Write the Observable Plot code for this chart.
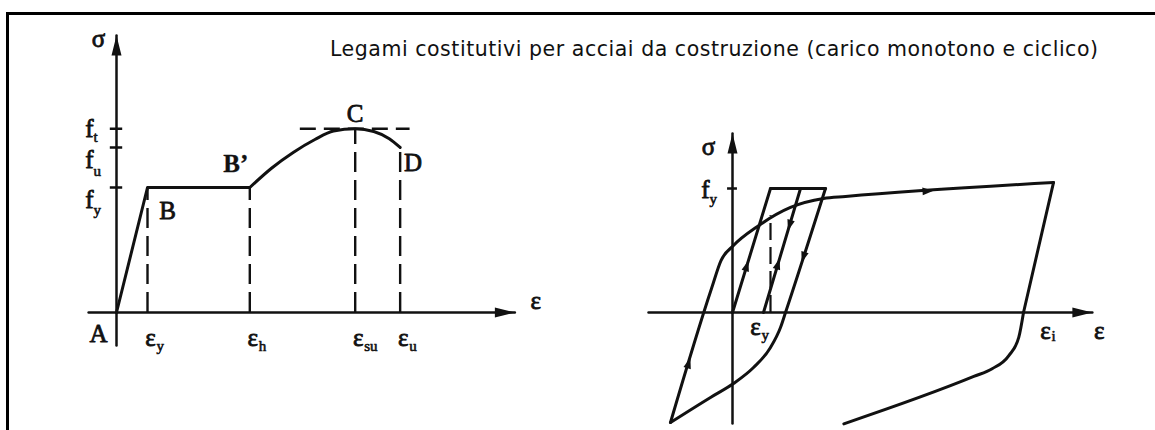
<!DOCTYPE html>
<html lang="it">
<head>
<meta charset="utf-8">
<title>Legami costitutivi per acciai da costruzione</title>
<script src="https://cdn.jsdelivr.net/npm/d3@7"></script>
<script src="https://cdn.jsdelivr.net/npm/@observablehq/plot@0.6"></script>
<style>
  html, body { margin: 0; padding: 0; background: #fff; }
  #figure { position: relative; width: 1155px; height: 430px; overflow: hidden; background: #fff; }
  #frame { position: absolute; left: 6px; top: 12px; width: 1170px; height: 440px;
           border-top: 3px solid #000; border-left: 3px solid #000; box-sizing: border-box; }
  #title { position: absolute; left: 330px; top: 39px; font-family: "DejaVu Sans", sans-serif;
           font-size: 20.5px; line-height: 20px; color: #111; white-space: nowrap; z-index: 2; }
  .panel { position: absolute; top: 0; z-index: 1; }
  .panel svg { display: block; overflow: visible; }
</style>
</head>
<body>
<div id="figure">
  <div id="frame"></div>
  <div id="title"></div>
  <div id="left" class="panel" style="left:0px"></div>
  <div id="right" class="panel" style="left:580px"></div>
</div>
<script>
const TITLE = "Legami costitutivi per acciai da costruzione (carico monotono e ciclico)";

// ---- Monotonic law (left): strain in units of ε_y, stress in units of f_y
const monoPoints = ["A", "B", "B’", "C", "D"];
const monoStrain = [0, 1, 4.3, 7.7, 9.15];
const monoStress = [0, 1, 1, 1.47, 1.32];
// strain-hardening branch B' → C → D
const hardeningStrain = [4.3, 5.0, 5.7, 6.4, 7.0, 7.7, 8.3, 8.8, 9.15];
const hardeningStress = [1.0, 1.154, 1.28, 1.384, 1.452, 1.47, 1.448, 1.39, 1.32];
// characteristic strains (ε axis) and the stress reached there
const strainTickSubs = ["y", "h", "su", "u"];
const strainTickValues = [1, 4.3, 7.7, 9.15];
const strainTickStress = [1, 1, 1.47, 1.32];
// characteristic stresses (σ axis)
const stressTickSubs = ["y", "u", "t"];
const stressTickValues = [1, 1.32, 1.47];

// ---- Cyclic law (right): strain in units of ε_y, stress in units of f_y
const elasticStrain = [0, 1];
const elasticStress = [0, 1];
const yieldStrain = [1, 2.447];
const yieldStress = [1, 1];
const reloadStrain = [0.816, 1.79];
const reloadStress = [0, 1];
const unloadStrain = [2.447, 1.395, 1.263, 1.0, 0.553, 0.026, -0.579, -1.632];
const unloadStress = [1, 0, -0.121, -0.282, -0.444, -0.573, -0.685, -0.887];
const reverseStrain = [-1.632, -0.55, -0.30, 0.026, 0.658, 1.526, 2.395, 2.974, 8.447];
const reverseStress = [-0.887, 0.195, 0.42, 0.54, 0.694, 0.847, 0.919, 0.935, 1.048];
const secondUnloadStrain = [8.447, 7.658];
const secondUnloadStress = [1.048, 0];
const compressionStrain = [7.658, 7.535, 7.272, 6.833, 6.35, 2.93];
const compressionStress = [0, -0.199, -0.347, -0.454, -0.516, -0.898];
const cyclicYieldStrain = 1;        // ε_y on the cyclic diagram
const cyclicYieldDashTop = 0.78;    // dashed ε_y line up to the envelope
const cyclicInelasticStrain = 7.658; // ε_i

// ---- layout (scales map the units above to pixels)
const INK = "#111";
const SERIF = "'Liberation Serif', 'Times New Roman', serif";
const LEFT = {width: 580, x: {domain: [0, 1], range: [116, 147]}, y: {domain: [0, 1], range: [312, 187]},
              axisStrain: [-0.9, 12.85], axisStress: [-0.264, 2.216], peakDash: [5.93, 9.47]};
const RIGHT = {width: 575, x: {domain: [0, 1], range: [152, 190]}, y: {domain: [0, 1], range: [312, 188]},
               axisStrain: [-2.21, 9.47], axisStress: [-0.895, 1.444]};

const table = (xs, ys) => xs.map((x, i) => ({x, y: ys[i]}));

// filled arrowhead, tip at the anchor point, pointing up before rotation
function arrowHead(len, half) {
  return {
    draw(context, size) {
      const k = Math.sqrt(size / Math.PI) / 5;
      context.moveTo(0, 0);
      context.lineTo(half * k, len * k);
      context.lineTo(-half * k, len * k);
      context.closePath();
    }
  };
}
const axisHead = arrowHead(20, 5);
const flowHead = arrowHead(11, 3.8);

function axes(p) {
  const [x0, x1] = p.axisStrain, [y0, y1] = p.axisStress;
  return [
    Plot.line([{x: x0, y: 0}, {x: x1, y: 0}], {x: "x", y: "y", stroke: INK, strokeWidth: 2.5}),
    Plot.line([{x: 0, y: y0}, {x: 0, y: y1}], {x: "x", y: "y", stroke: INK, strokeWidth: 2.5}),
    Plot.dot([{x: x1, y: 0}], {x: "x", y: "y", symbol: axisHead, r: 5, fill: INK, stroke: "none", rotate: 90}),
    Plot.dot([{x: 0, y: y1}], {x: "x", y: "y", symbol: axisHead, r: 5, fill: INK, stroke: "none", rotate: 0})
  ];
}

// letter + subscript placed at a data anchor with pixel offsets
function label(x, y, main, sub, o) {
  const bold = o.weight === "bold";
  const marks = [Plot.text([{x, y}], {x: "x", y: "y", text: () => main, dx: o.dx, dy: o.dy,
    fontFamily: SERIF, fontSize: o.size || 25, fontWeight: bold ? "bold" : "normal",
    textAnchor: "middle", fill: INK, stroke: INK, strokeWidth: bold ? 0.3 : 0.8})];
  if (sub) marks.push(Plot.text([{x, y}], {x: "x", y: "y", text: () => sub, dx: o.sdx, dy: o.sdy,
    fontFamily: SERIF, fontSize: 15, textAnchor: "start", fill: INK, stroke: INK, strokeWidth: 0.6}));
  return marks;
}

// ---------------- left panel: monotonic law ----------------
const mono = table(monoStrain, monoStress);
const pointOffsets = [[-18, 21], [20, 23], [-14, -24], [0, -15], [13, 15]];
const stressLabelOffsets = [[12, 23], [12, 24], [0, 8]];

const leftMarks = [
  ...axes(LEFT),
  Plot.ruleY(stressTickValues, {y: d => d, x1: -0.2, x2: 0.2, stroke: INK, strokeWidth: 2.5}),
  Plot.ruleX(strainTickValues.map((v, i) => ({x: v, top: strainTickStress[i]})),
    {x: "x", y1: 0, y2: "top", stroke: INK, strokeWidth: 2.4, strokeDasharray: "20,8"}),
  Plot.ruleY([stressTickValues[2]], {y: d => d, x1: LEFT.peakDash[0], x2: LEFT.peakDash[1],
    stroke: INK, strokeWidth: 2.4, strokeDasharray: "16,8"}),
  Plot.line(mono.slice(0, 3), {x: "x", y: "y", stroke: INK, strokeWidth: 3}),
  Plot.line(table(hardeningStrain, hardeningStress), {x: "x", y: "y", curve: "monotone-x", stroke: INK, strokeWidth: 3}),
  ...monoPoints.flatMap((name, i) => label(monoStrain[i], monoStress[i], name, null,
    {dx: pointOffsets[i][0], dy: pointOffsets[i][1], weight: name === "B’" ? "bold" : "normal"})),
  ...stressTickSubs.flatMap((sub, i) => label(0, stressTickValues[i], "f", sub,
    {dx: -27, dy: stressLabelOffsets[i][0], sdx: -23, sdy: stressLabelOffsets[i][1]})),
  ...strainTickSubs.flatMap((sub, i) => label(strainTickValues[i], 0, "ε", sub,
    {dx: 3, dy: 25, sdx: 9, sdy: 34})),
  ...label(0, LEFT.axisStress[1], "σ", null, {dx: -18, dy: 3}),
  ...label(LEFT.axisStrain[1], 0, "ε", null, {dx: 21, dy: -12})
];

document.getElementById("left").append(Plot.plot({
  width: LEFT.width, height: 430, margin: 0,
  x: {...LEFT.x, axis: null}, y: {...LEFT.y, axis: null},
  style: {background: "transparent", overflow: "visible"},
  marks: leftMarks
}));

// ---------------- right panel: cyclic law ----------------
const rsc = {x: Plot.scale({x: RIGHT.x}), y: Plot.scale({y: RIGHT.y})};
const branches = {
  elastic: [elasticStrain, elasticStress],
  reload: [reloadStrain, reloadStress],
  unload: [unloadStrain, unloadStress],
  reverse: [reverseStrain, reverseStress]
};
// arrows along straight stretches: branch, segment, position along it, direction
const flowArrows = [
  {branch: "elastic", seg: 0, t: 0.42, dir: 1},
  {branch: "reload", seg: 0, t: 0.66, dir: -1},
  {branch: "reload", seg: 0, t: 0.435, dir: 1},
  {branch: "unload", seg: 0, t: 0.597, dir: 1},
  {branch: "reverse", seg: 0, t: 0.484, dir: 1},
  {branch: "reverse", seg: 7, t: 0.423, dir: 1}
];
const arrowData = flowArrows.map(({branch, seg, t, dir}) => {
  const [xs, ys] = branches[branch];
  const ax = xs[seg], ay = ys[seg], bx = xs[seg + 1], by = ys[seg + 1];
  const px = rsc.x.apply(bx) - rsc.x.apply(ax), py = rsc.y.apply(by) - rsc.y.apply(ay);
  return {x: ax + t * (bx - ax), y: ay + t * (by - ay),
          angle: Math.atan2(dir * px, -dir * py) * 180 / Math.PI};
});

const rightMarks = [
  ...axes(RIGHT),
  Plot.ruleY([1], {y: d => d, x1: -0.13, x2: 0.13, stroke: INK, strokeWidth: 2.5}),
  Plot.ruleX([cyclicYieldStrain], {x: d => d, y1: 0, y2: cyclicYieldDashTop, stroke: INK, strokeWidth: 2.2, strokeDasharray: "17,7"}),
  Plot.line(table(elasticStrain, elasticStress), {x: "x", y: "y", stroke: INK, strokeWidth: 3}),
  Plot.line(table(yieldStrain, yieldStress), {x: "x", y: "y", stroke: INK, strokeWidth: 3}),
  Plot.line(table(reloadStrain, reloadStress), {x: "x", y: "y", stroke: INK, strokeWidth: 3}),
  Plot.line(table(unloadStrain, unloadStress), {x: "x", y: "y", curve: "monotone-x", stroke: INK, strokeWidth: 3}),
  Plot.line(table(reverseStrain, reverseStress), {x: "x", y: "y", curve: "monotone-x", stroke: INK, strokeWidth: 3}),
  Plot.line(table(secondUnloadStrain, secondUnloadStress), {x: "x", y: "y", stroke: INK, strokeWidth: 3}),
  Plot.line(table(compressionStrain, compressionStress), {x: "x", y: "y", curve: "monotone-x", stroke: INK, strokeWidth: 3}),
  ...arrowData.map(a => Plot.dot([a], {x: "x", y: "y", symbol: flowHead, r: 5, fill: INK, stroke: "none", rotate: a.angle})),
  ...label(0, RIGHT.axisStress[1], "σ", null, {dx: -24, dy: 14}),
  ...label(0, 1, "f", "y", {dx: -27, dy: 1, sdx: -23, sdy: 11}),
  ...label(cyclicYieldStrain, 0, "ε", "y", {dx: -15, dy: 14, sdx: -9, sdy: 23}),
  ...label(cyclicInelasticStrain, 0, "ε", "i", {dx: 22, dy: 18, sdx: 28, sdy: 24}),
  ...label(RIGHT.axisStrain[1], 0, "ε", null, {dx: 7, dy: 18})
];

document.getElementById("right").append(Plot.plot({
  width: RIGHT.width, height: 430, margin: 0,
  x: {...RIGHT.x, axis: null}, y: {...RIGHT.y, axis: null},
  style: {background: "transparent", overflow: "visible"},
  marks: rightMarks
}));

// ---------------- heading ----------------
const title = document.getElementById("title");
title.textContent = TITLE;
const w = title.getBoundingClientRect().width;
title.style.letterSpacing = ((768 - w) / (TITLE.length - 1)).toFixed(3) + "px";
</script>
</body>
</html>
